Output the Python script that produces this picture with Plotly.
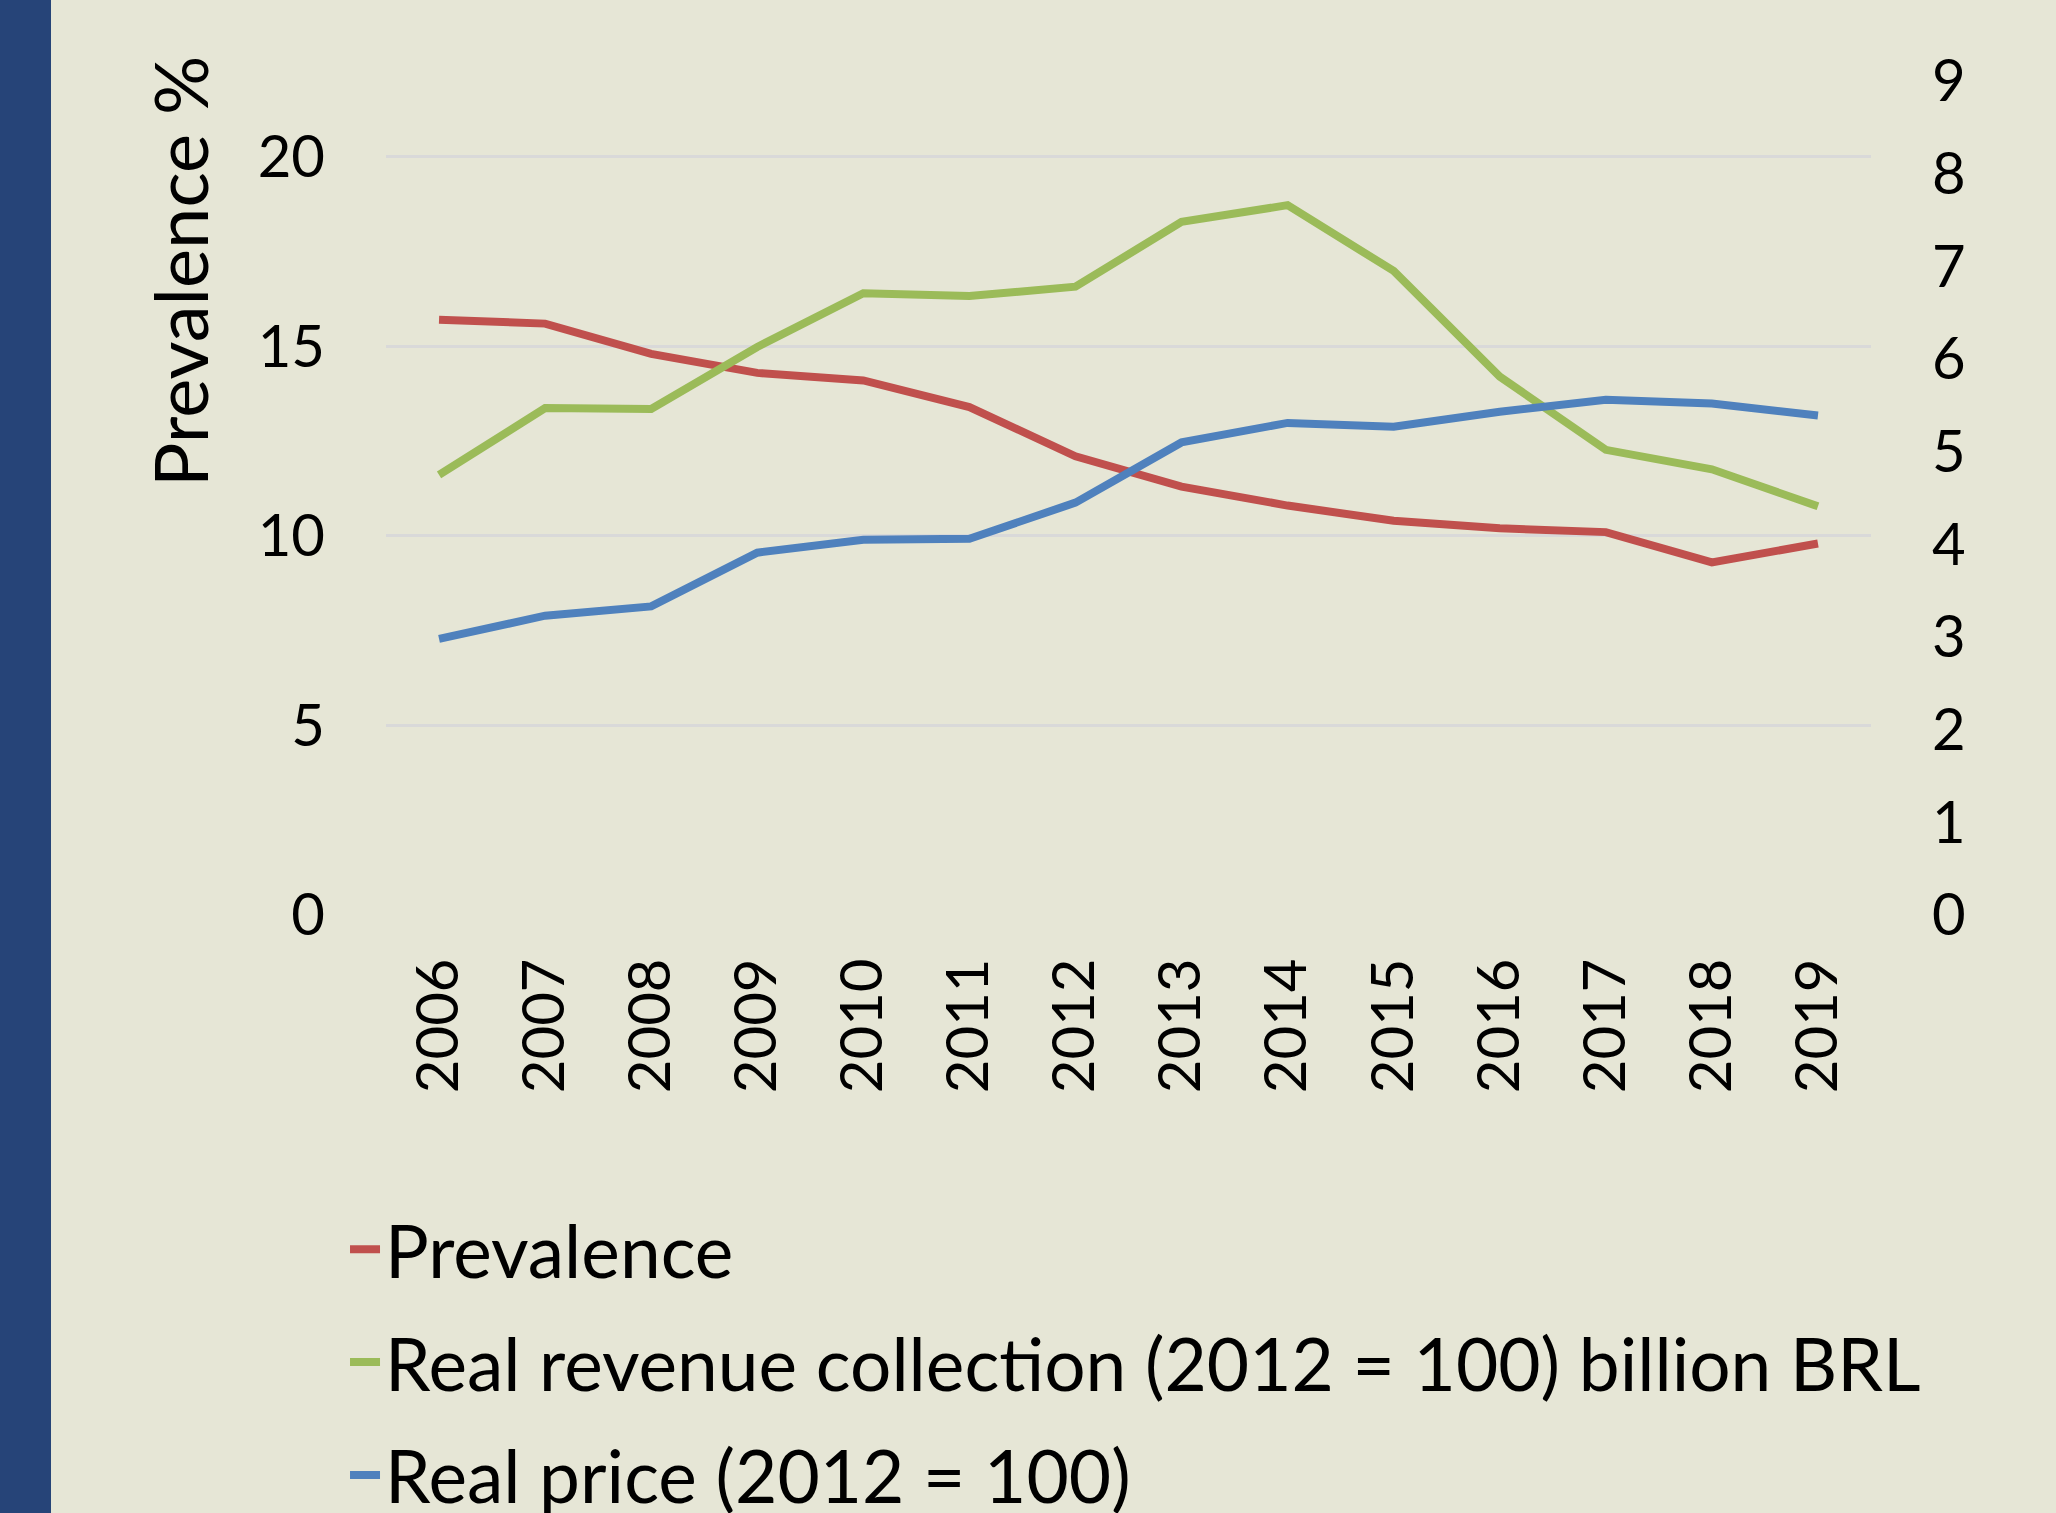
import plotly.graph_objects as go

years = ["2006", "2007", "2008", "2009", "2010", "2011", "2012",
         "2013", "2014", "2015", "2016", "2017", "2018", "2019"]
prevalence = [15.7, 15.6, 14.8, 14.3, 14.1, 13.4, 12.1, 11.3, 10.8, 10.4, 10.2, 10.1, 9.3, 9.8]
revenue = [4.75, 5.47, 5.46, 6.13, 6.71, 6.68, 6.78, 7.48, 7.66, 6.95, 5.81, 5.02, 4.81, 4.41]
price = [2.98, 3.23, 3.33, 3.91, 4.05, 4.06, 4.45, 5.10, 5.31, 5.27, 5.43, 5.56, 5.52, 5.39]
left_ticks = [0, 5, 10, 15, 20]
right_ticks = [0, 1, 2, 3, 4, 5, 6, 7, 8, 9]

W, H = 2056, 1513
L, R, T, B = 386, 185, 81, 598
FONT = "Lato"
BG = "#E6E6D6"

fig = go.Figure()
fig.add_trace(go.Scatter(x=years, y=prevalence, name="Prevalence", mode="lines",
                         legendgroup="a",
                         line=dict(color="#C0504D", width=8), yaxis="y"))
fig.add_trace(go.Scatter(x=years, y=revenue, name="Real revenue collection (2012 = 100) billion BRL",
                         mode="lines", legendgroup="b",
                         line=dict(color="#9BBB59", width=8), yaxis="y2"))
fig.add_trace(go.Scatter(x=years, y=price, name="Real price (2012 = 100)", mode="lines",
                         legendgroup="c",
                         line=dict(color="#4F81BD", width=8), yaxis="y2"))

fig.update_layout(
    width=W, height=H,
    margin=dict(l=L, r=R, t=T, b=B, pad=0, autoexpand=False),
    paper_bgcolor=BG, plot_bgcolor=BG,
    font=dict(family=FONT, color="black", size=58),
    showlegend=True,
    legend=dict(x=-0.0276, y=-0.336, xanchor="left", yanchor="top",
                font=dict(size=73, family=FONT), bgcolor="rgba(0,0,0,0)",
                itemwidth=30, tracegroupgap=15),
    xaxis=dict(type="category", range=[-0.5, 13.5], tickangle=-90, showgrid=False,
               showline=False, zeroline=False, ticks="", ticklabelstandoff=31,
               tickfont=dict(size=58), automargin=False),
    yaxis=dict(range=[0, 22], tickvals=left_ticks, showgrid=True, gridcolor="#D9D9D9",
               gridwidth=3, zeroline=False, showline=False, ticks="",
               ticklabelstandoff=60, tickfont=dict(size=58), automargin=False),
    yaxis2=dict(range=[0, 9], tickvals=right_ticks, overlaying="y", side="right",
                showgrid=False, zeroline=False, showline=False, ticks="",
                ticklabelstandoff=60, tickfont=dict(size=58), automargin=False),
    shapes=[dict(type="rect", xref="paper", yref="paper", x0=-L / (W - L - R), x1=(51 - L) / (W - L - R),
                 y0=-B / (H - T - B), y1=(H - B) / (H - T - B), fillcolor="#264478",
                 line=dict(width=0), layer="below")],
    annotations=[dict(text="Prevalence %", xref="paper", yref="paper",
                      x=(179 - L) / (W - L - R), y=(H - B - 272) / (H - T - B),
                      textangle=-90, showarrow=False, font=dict(size=74, family=FONT),
                      xanchor="center", yanchor="middle")],
)

fig.write_html("out.html")
